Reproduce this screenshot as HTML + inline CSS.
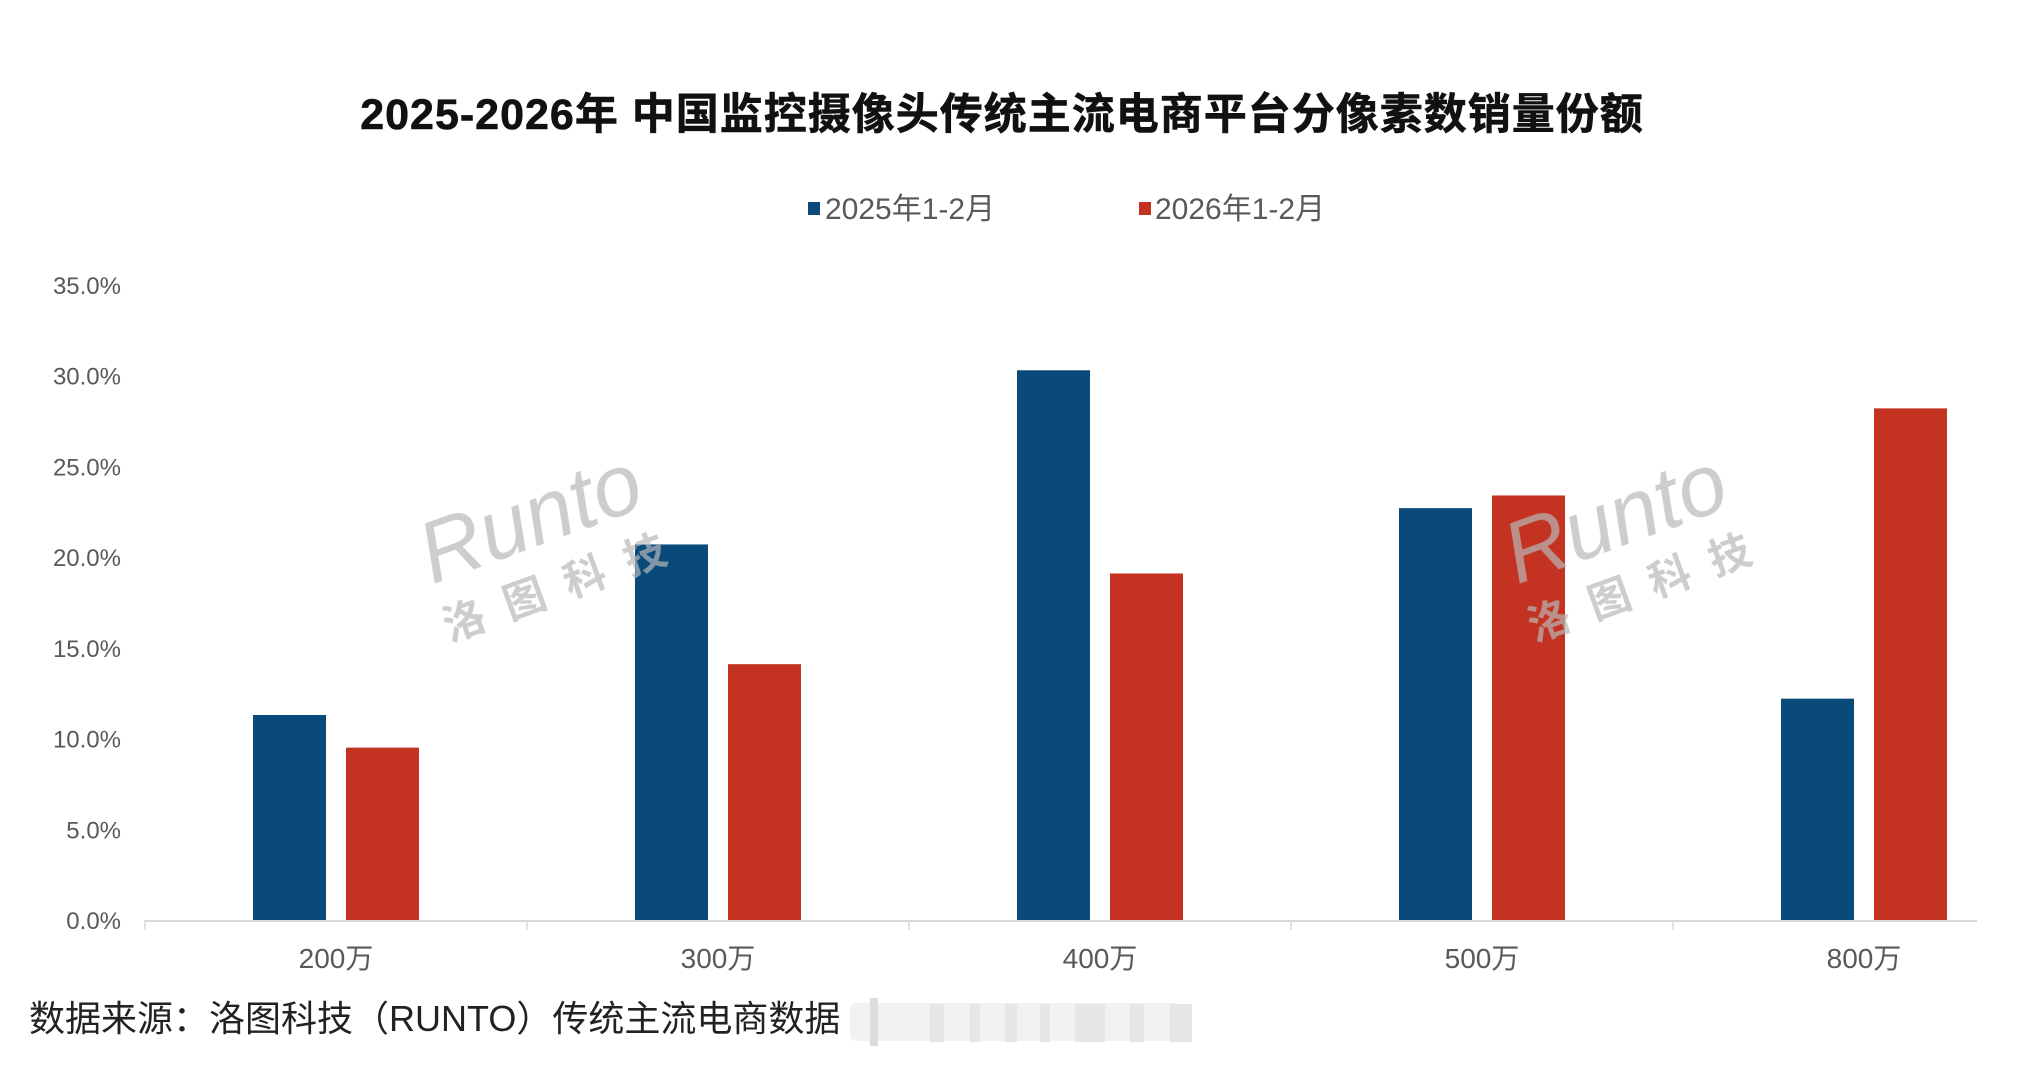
<!DOCTYPE html>
<html><head><meta charset="utf-8"><style>
html,body{margin:0;padding:0;background:#fff;}
body{width:2042px;height:1066px;position:relative;overflow:hidden;font-family:"Liberation Sans","Noto Sans CJK SC",sans-serif;}
svg text{font-family:"Liberation Sans","Noto Sans CJK SC",sans-serif;}
</style></head><body>
<svg id="chart" width="2042" height="1066" xmlns="http://www.w3.org/2000/svg">
<text x="1002" y="129" text-anchor="middle" font-size="43" font-weight="bold" fill="#111" stroke="#111" stroke-width="0.6" letter-spacing="1">2025-2026年 中国监控摄像头传统主流电商平台分像素数销量份额</text>
<g>
<rect x="808" y="202" width="12" height="13" fill="#0a4a7a"/>
<text x="825" y="219" font-size="30" fill="#595959">2025年1-2月</text>
<rect x="1139" y="202" width="12" height="13" fill="#c43222"/>
<text x="1155" y="219" font-size="30" fill="#595959">2026年1-2月</text>
</g>
<g id="yaxis"></g>
<g id="bars"></g>
<g fill="#b8b8b8" opacity="0.7">
<g transform="translate(540,545) rotate(-20)"><text x="0" y="0" text-anchor="middle" font-size="86" font-style="italic">Runto</text><text x="10" y="60" text-anchor="middle" font-size="42" font-weight="bold" letter-spacing="22">洛图科技</text></g>
<g transform="translate(1625,545) rotate(-20)"><text x="0" y="0" text-anchor="middle" font-size="86" font-style="italic">Runto</text><text x="10" y="60" text-anchor="middle" font-size="42" font-weight="bold" letter-spacing="22">洛图科技</text></g>
</g>
<g id="xaxis"></g>
<text x="29" y="1031" font-size="36" fill="#222">数据来源：洛图科技（RUNTO）传统主流电商数据</text>
<g fill="#e6e6e6">
<rect x="850" y="1003" width="330" height="38" rx="6" fill="#f2f2f2"/>
<rect x="870" y="998" width="8" height="48" fill="#dcdcdc"/>
<rect x="930" y="1004" width="14" height="38"/>
<rect x="970" y="1004" width="10" height="38"/>
<rect x="1005" y="1004" width="12" height="38"/>
<rect x="1040" y="1004" width="10" height="38"/>
<rect x="1075" y="1004" width="30" height="38"/>
<rect x="1130" y="1004" width="14" height="38"/>
<rect x="1170" y="1004" width="22" height="38"/>
</g>
</svg>
<script>
const categories = ["200万","300万","400万","500万","800万"];
const series2025 = [11.3,20.7,30.3,22.7,12.2];
const series2026 = [9.5,14.1,19.1,23.4,28.2];
const yTicks = [0,5,10,15,20,25,30,35];
const yTickLabels = ["0.0%","5.0%","10.0%","15.0%","20.0%","25.0%","30.0%","35.0%"];

const NS="http://www.w3.org/2000/svg";
const X0=145, X1=1977, Y0=920, Y35=285;
const band=382;
function xCenter(i){return X0+band*(i+0.5);}
function yScale(v){return Y0-(v/35)*(Y0-Y35);}
function mk(tag,attrs,parent){const e=document.createElementNS(NS,tag);for(const k in attrs)e.setAttribute(k,attrs[k]);parent.appendChild(e);return e;}

const yg=document.getElementById('yaxis');
yTicks.forEach((t,i)=>{
  const tx=mk('text',{x:121,y:yScale(t)+9,'text-anchor':'end','font-size':24,fill:'#595959'},yg);
  
  
  tx.textContent=yTickLabels[i];
});

const bg=document.getElementById('bars');
const bw=73;
categories.forEach((c,i)=>{
  const cx=xCenter(i);
  const b1=mk('rect',{x:cx-83,y:yScale(series2025[i]),width:bw,height:Y0-yScale(series2025[i]),fill:'#0a4a7a'},bg);
  
  
  const b2=mk('rect',{x:cx+10,y:yScale(series2026[i]),width:bw,height:Y0-yScale(series2026[i]),fill:'#c43222'},bg);
  
  
});

const xg=document.getElementById('xaxis');
const ax=mk('line',{x1:X0,y1:Y0+1,x2:X1,y2:Y0+1,stroke:'#d9d9d9','stroke-width':2},xg);


for(let i=0;i<categories.length;i++){
  const tk=mk('line',{x1:X0+band*i,y1:Y0,x2:X0+band*i,y2:Y0+10,stroke:'#d9d9d9','stroke-width':1.5},xg);
  
  
}
categories.forEach((c,i)=>{
  const tx=mk('text',{x:xCenter(i),y:968,'text-anchor':'middle','font-size':28,fill:'#595959'},xg);
  
  
  tx.textContent=c;
});
</script>
</body></html>
